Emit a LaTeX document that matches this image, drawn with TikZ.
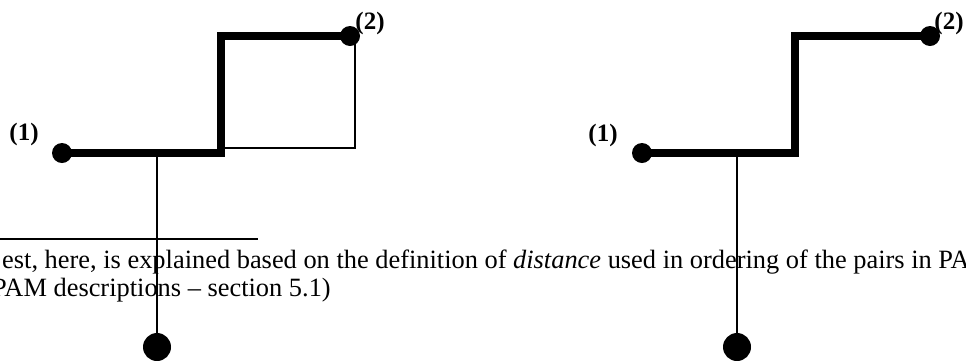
\documentclass[tikz,border=0pt]{standalone}
\usepackage{fontspec}
\setmainfont{Liberation Serif}
\begin{document}
\begin{tikzpicture}[x=1pt,y=-1pt,
  dotsmall/.style={circle,fill=black,inner sep=0pt,minimum size=20pt},
  dotbig/.style={circle,fill=black,inner sep=0pt,minimum size=28pt},
  thickline/.style={line width=8pt,line cap=butt,line join=miter},
  thinline/.style={line width=1.6pt},
  lbl/.style={font=\fontsize{25}{30}\selectfont\bfseries,inner sep=0pt},
  txt/.style={font=\fontsize{26.4}{29}\selectfont,inner sep=0pt,anchor=base west}]
\useasboundingbox (0,0) rectangle (966,360);
\clip (0,0) rectangle (966,360);
% footnote text
\node[txt] (t1) at (2,268) {est, here, is explained based on the definition of \textit{distance} used in ordering of the pairs in PA};
\node[txt] (t2) at (-8,296) {PAM descriptions – section 5.1)};
% footnote rule
\coordinate (s1) at (0,239);
\coordinate (s2) at (258,239);
\draw[line width=1.3pt] (s1) -- (s2);
% left diagram
\node[dotsmall] (L1) at (62,153) {};
\coordinate (La) at (221,153);
\coordinate (Lb) at (221,36);
\node[dotsmall] (L2) at (350,36) {};
\draw[thickline] (L1.center) -- (La) -- (Lb) -- (L2.center);
\coordinate (Le) at (355,36);
\coordinate (Lc) at (355,148);
\coordinate (Ld) at (221,148);
\draw[thinline] (Le) -- (Lc) -- (Ld);
\coordinate (Lf) at (157,153);
\node[dotbig] (L3) at (157,347) {};
\draw[thinline] (Lf) -- (L3.center);
\node[lbl] (L1t) at (24,134) {(1)};
\node[lbl] (L2t) at (370,23) {(2)};
% right diagram
\node[dotsmall] (R1) at (642,153) {};
\coordinate (Ra) at (795,153);
\coordinate (Rb) at (795,36);
\node[dotsmall] (R2) at (930,36) {};
\draw[thickline] (R1.center) -- (Ra) -- (Rb) -- (R2.center);
\coordinate (Rf) at (737,153);
\node[dotbig] (R3) at (737,347) {};
\draw[thinline] (Rf) -- (R3.center);
\node[lbl] (R1t) at (603,135) {(1)};
\node[lbl] (R2t) at (949,23) {(2)};
\end{tikzpicture}
\end{document}
